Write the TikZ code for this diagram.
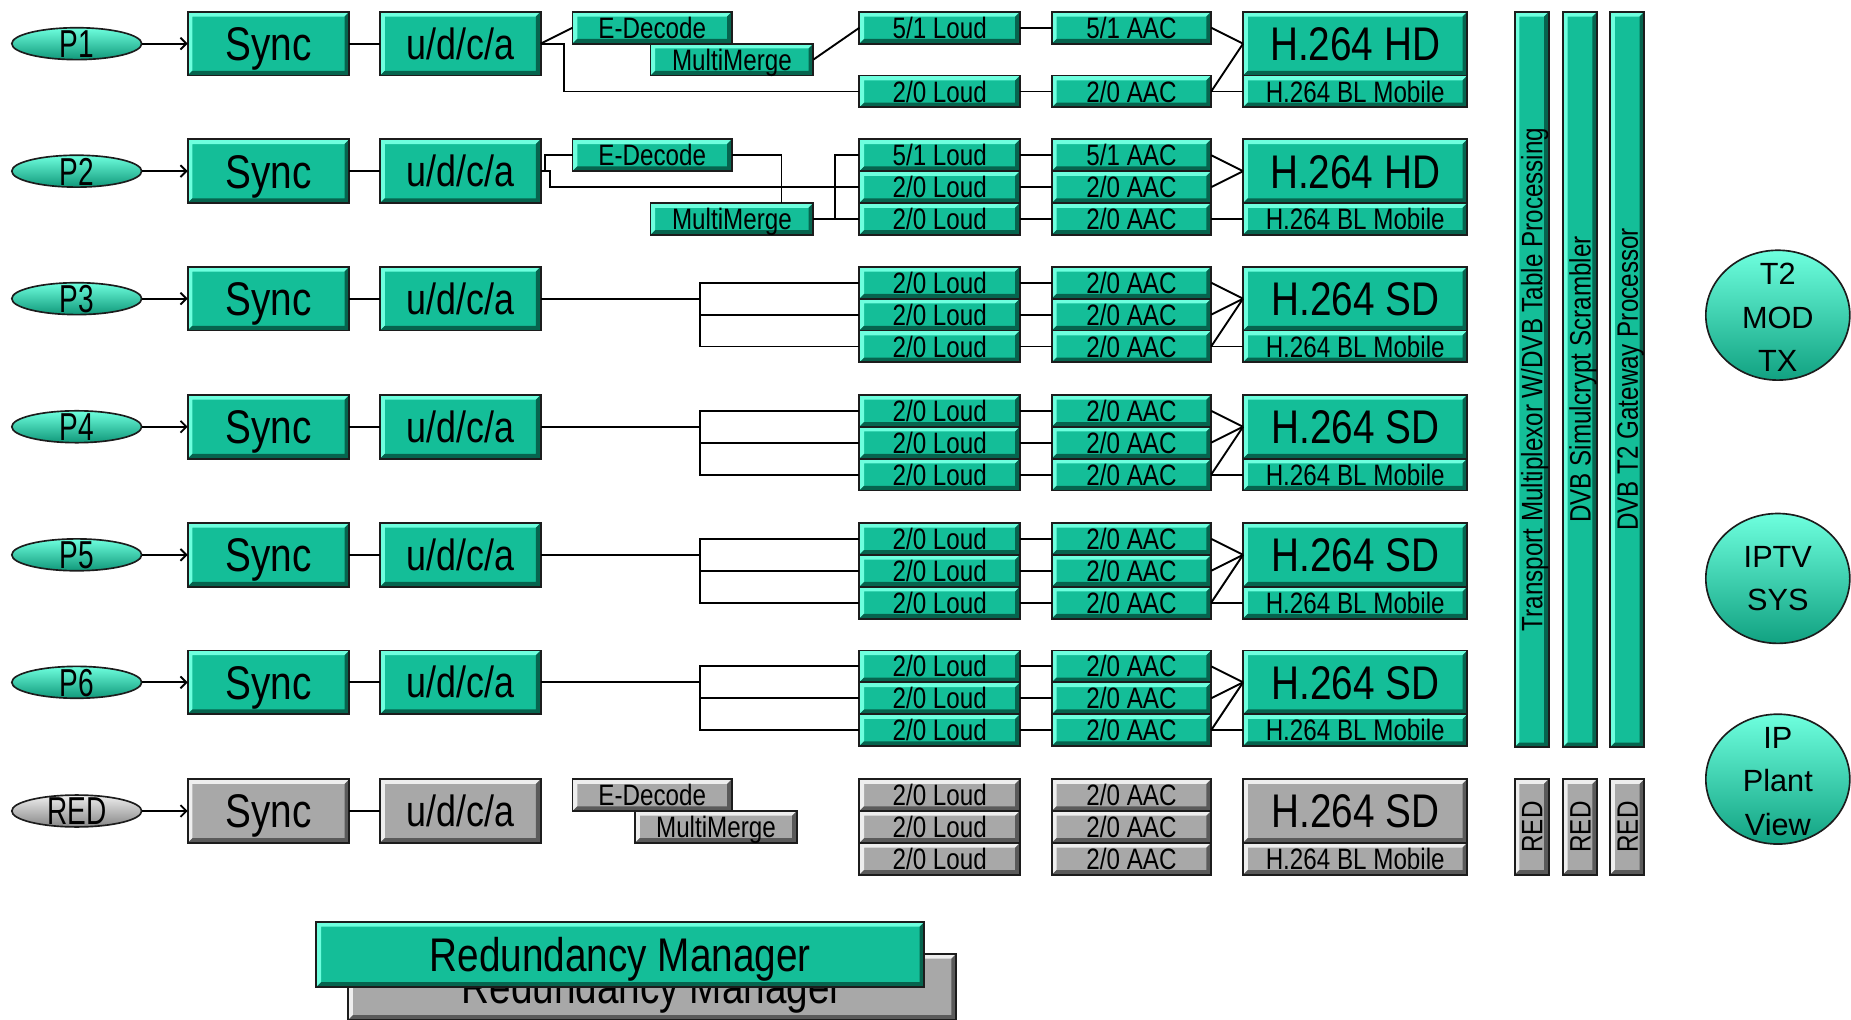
\documentclass[tikz,border=0pt]{standalone}
\usepackage{fontspec}
\usetikzlibrary{shapes.geometric,arrows.meta,calc}
\newfontfamily\nfont[FakeStretch=0.82]{Liberation Sans}
\newfontfamily\pfont[FakeStretch=0.72]{Liberation Sans}
\newfontfamily\wfont{Liberation Sans}
\definecolor{gmain}{RGB}{20,190,152}
\definecolor{glight}{RGB}{110,255,222}
\definecolor{gdark}{RGB}{6,100,78}
\definecolor{ymain}{RGB}{168,168,168}
\definecolor{ylight}{RGB}{238,238,238}
\definecolor{ydark}{RGB}{90,90,90}
\definecolor{bord}{RGB}{28,28,28}
\tikzset{
  bevelfx/.style 2 args={path picture={
    \fill[#1] let \p1=(path picture bounding box.south west), \p2=(path picture bounding box.north east) in
      (\x1,\y1) -- (\x1,\y2) -- (\x2,\y2) -- (\x2-4pt,\y2-4pt) -- (\x1+4pt,\y2-4pt) -- (\x1+4pt,\y1+4pt) -- cycle;
    \fill[#2] let \p1=(path picture bounding box.south west), \p2=(path picture bounding box.north east) in
      (\x1,\y1) -- (\x2,\y1) -- (\x2,\y2) -- (\x2-4pt,\y2-4pt) -- (\x2-4pt,\y1+4pt) -- (\x1+4pt,\y1+4pt) -- cycle;
  }},
  gb/.style={draw=bord, line width=1.6pt, fill=gmain, bevelfx={glight}{gdark}, inner sep=0pt, outer sep=0pt, text=black},
  yb/.style={draw=bord, line width=1.6pt, fill=ymain, bevelfx={ylight}{ydark}, inner sep=0pt, outer sep=0pt, text=black},
  smfont/.style={font=\nfont\fontsize{25}{28}\selectfont, text height=17.9pt, text depth=0pt},
  bgfont/.style={font=\nfont\fontsize{40}{44}\selectfont, text height=28.6pt, text depth=0pt},
  smbox/.style={smfont, minimum width=136pt, minimum height=27pt},
  aacbox/.style={smfont, minimum width=135pt, minimum height=27pt},
  edbox/.style={smfont, minimum width=135pt, minimum height=27pt},
  mmbox/.style={smfont, minimum width=138pt, minimum height=27pt},
  syncbox/.style={bgfont, minimum width=137pt, minimum height=54pt},
  udbox/.style={font=\nfont\fontsize{37}{40}\selectfont, text height=26.5pt, text depth=0pt, minimum width=136pt, minimum height=54pt},
  hbox/.style={bgfont, minimum width=190pt, minimum height=54pt},
  blbox/.style={smfont, minimum width=190pt, minimum height=27pt},
  barbox/.style={minimum width=29pt, minimum height=623pt},
  redbar/.style={minimum width=29pt, minimum height=81pt},
  bartext/.style={rotate=90, inner sep=0pt, smfont},
  pell/.style={ellipse, draw=bord, line width=1.4pt, minimum width=110pt, minimum height=27pt, inner sep=0pt, top color=glight, bottom color=gmain!80!black},
  yell/.style={ellipse, draw=bord, line width=1.4pt, minimum width=110pt, minimum height=27pt, inner sep=0pt, top color=ylight, bottom color=ymain!80!black},
  bigell/.style={ellipse, draw=bord, line width=1.4pt, minimum width=122pt, minimum height=110pt, inner sep=0pt, top color=glight, bottom color=gmain!85!black},
  ptext/.style={inner sep=0pt, font=\pfont\fontsize{33}{35}\selectfont, text height=23.6pt, text depth=0pt},
  etext/.style={inner sep=0pt, align=center, font=\wfont\fontsize{26}{37}\selectfont},
  conn/.style={draw=black, line width=1.6pt},
  arr/.style={conn, -{Straight Barb[length=5pt,width=10pt]}},
}
\begin{document}
\begin{tikzpicture}[x=1pt,y=-1pt]
\path[use as bounding box, fill=white] (0,0) rectangle (1568,864);

% ---------- Row 1 ----------
\node[pell] (p1) at (65,37) {};
\node[ptext] (p1t) at (p1) {P1};
\node[gb,syncbox] (sync1) at (227.5,37) {Sync};
\node[gb,udbox] (ud1) at (390,37) {u/d/c/a};
\node[gb,edbox] (ed1) at (552.5,23.5) {E-Decode};
\node[gb,mmbox] (mm1) at (620,50.5) {MultiMerge};
\node[gb,smbox] (la1) at (796,23.5) {5/1 Loud};
\node[gb,smbox] (lc1) at (796,77.5) {2/0 Loud};
\node[gb,aacbox] (aa1) at (958.5,23.5) {5/1 AAC};
\node[gb,aacbox] (ac1) at (958.5,77.5) {2/0 AAC};
\node[gb,hbox] (h1) at (1148,37) {H.264 HD};
\node[gb,blbox] (b1) at (1148,77.5) {H.264 BL Mobile};
\draw[arr] (p1.east) -- (sync1.west);
\draw[conn] (sync1) -- (ud1);
\draw[conn] (ud1.east) -- (ed1.west);
\draw[conn] (ud1.east) -- ++(20,0) |- (lc1.west);
\draw[conn] (mm1.east) -- (la1.west);
\draw[conn] (la1) -- (aa1);
\draw[conn] (lc1) -- (ac1);
\draw[conn] (aa1.east) -- (h1.west);
\draw[conn] (ac1.east) -- (h1.west);
\draw[conn] (ac1.east) -- (b1.west);

% ---------- Row 2 ----------
\node[pell] (p2) at (65,145) {};
\node[ptext] (p2t) at (p2) {P2};
\node[gb,syncbox] (sync2) at (227.5,145) {Sync};
\node[gb,udbox] (ud2) at (390,145) {u/d/c/a};
\node[gb,edbox] (ed2) at (552.5,131.5) {E-Decode};
\node[gb,mmbox] (mm2) at (620,185.5) {MultiMerge};
\node[gb,smbox] (la2) at (796,131.5) {5/1 Loud};
\node[gb,smbox] (lb2) at (796,158.5) {2/0 Loud};
\node[gb,smbox] (lc2) at (796,185.5) {2/0 Loud};
\node[gb,aacbox] (aa2) at (958.5,131.5) {5/1 AAC};
\node[gb,aacbox] (ab2) at (958.5,158.5) {2/0 AAC};
\node[gb,aacbox] (ac2) at (958.5,185.5) {2/0 AAC};
\node[gb,hbox] (h2) at (1148,145) {H.264 HD};
\node[gb,blbox] (b2) at (1148,185.5) {H.264 BL Mobile};
\draw[arr] (p2.east) -- (sync2.west);
\draw[conn] (sync2) -- (ud2);
\draw[conn] (ud2.east) -- ++(4,0) |- (ed2.west);
\draw[conn] (ud2.east) -- ++(8,0) |- (lb2.west);
\draw[conn] (ed2.east) -| ([xshift=42pt]mm2.north);
\draw[conn] (mm2.east) -- ++(18,0) |- (la2.west);
\draw[conn] (mm2.east) -- (lc2.west);
\draw[conn] (la2) -- (aa2);
\draw[conn] (lb2) -- (ab2);
\draw[conn] (lc2) -- (ac2);
\draw[conn] (aa2.east) -- (h2.west);
\draw[conn] (ab2.east) -- (h2.west);
\draw[conn] (ac2.east) -- (b2.west);

% ---------- Rows 3-6 ----------
\foreach \r/\y in {3/253,4/361.5,5/470,6/578}{
  \node[pell] (p\r) at (65,\y) {};
  \node[ptext] (p\r t) at (p\r) {P\r};
  \node[gb,syncbox] (sync\r) at (227.5,\y) {Sync};
  \node[gb,udbox] (ud\r) at (390,\y) {u/d/c/a};
  \node[gb,smbox] (la\r) at (796,\y-13.5) {2/0 Loud};
  \node[gb,smbox] (lb\r) at (796,\y+13.5) {2/0 Loud};
  \node[gb,smbox] (lc\r) at (796,\y+40.5) {2/0 Loud};
  \node[gb,aacbox] (aa\r) at (958.5,\y-13.5) {2/0 AAC};
  \node[gb,aacbox] (ab\r) at (958.5,\y+13.5) {2/0 AAC};
  \node[gb,aacbox] (ac\r) at (958.5,\y+40.5) {2/0 AAC};
  \node[gb,hbox] (h\r) at (1148,\y) {H.264 SD};
  \node[gb,blbox] (b\r) at (1148,\y+40.5) {H.264 BL Mobile};
  \coordinate (j\r) at (593,\y);
  \draw[arr] (p\r.east) -- (sync\r.west);
  \draw[conn] (sync\r) -- (ud\r);
  \draw[conn] (ud\r.east) -- (j\r);
  \draw[conn] (j\r) |- (la\r.west);
  \draw[conn] (j\r) |- (lb\r.west);
  \draw[conn] (j\r) |- (lc\r.west);
  \draw[conn] (la\r) -- (aa\r);
  \draw[conn] (lb\r) -- (ab\r);
  \draw[conn] (lc\r) -- (ac\r);
  \draw[conn] (aa\r.east) -- (h\r.west);
  \draw[conn] (ab\r.east) -- (h\r.west);
  \draw[conn] (ac\r.east) -- (h\r.west);
  \draw[conn] (ac\r.east) -- (b\r.west);
}

% ---------- RED row ----------
\node[yell] (pr) at (65,687) {};
\node[ptext] (prt) at (pr) {RED};
\node[yb,syncbox] (syncr) at (227.5,687) {Sync};
\node[yb,udbox] (udr) at (390,687) {u/d/c/a};
\node[yb,edbox] (edr) at (552.5,673.5) {E-Decode};
\node[yb,smfont,minimum width=137pt,minimum height=27pt] (mmr) at (606.5,700.5) {MultiMerge};
\node[yb,smbox] (lar) at (796,673.5) {2/0 Loud};
\node[yb,smbox] (lbr) at (796,700.5) {2/0 Loud};
\node[yb,smbox] (lcr) at (796,727.5) {2/0 Loud};
\node[yb,aacbox] (aar) at (958.5,673.5) {2/0 AAC};
\node[yb,aacbox] (abr) at (958.5,700.5) {2/0 AAC};
\node[yb,aacbox] (acr) at (958.5,727.5) {2/0 AAC};
\node[yb,hbox] (hr) at (1148,687) {H.264 SD};
\node[yb,blbox] (br) at (1148,727.5) {H.264 BL Mobile};
\draw[arr] (pr.east) -- (syncr.west);
\draw[conn] (syncr) -- (udr);

% ---------- vertical bars ----------
\node[gb,barbox] (bar1) at (1297.5,321.5) {};
\node[gb,barbox] (bar2) at (1338.5,321.5) {};
\node[gb,barbox] (bar3) at (1378.5,321.5) {};
\node[bartext] (bar1t) at (bar1) {Transport Multiplexor W/DVB Table Processing};
\node[bartext] (bar2t) at (bar2) {DVB Simulcrypt Scrambler};
\node[bartext] (bar3t) at (bar3) {DVB T2 Gateway Processor};
\node[yb,redbar] (rb1) at (1297.5,700.5) {};
\node[yb,redbar] (rb2) at (1338.5,700.5) {};
\node[yb,redbar] (rb3) at (1378.5,700.5) {};
\node[bartext] (rb1t) at (rb1) {RED};
\node[bartext] (rb2t) at (rb2) {RED};
\node[bartext] (rb3t) at (rb3) {RED};

% ---------- right ellipses ----------
\node[bigell] (t2) at (1506,267) {};
\node[etext] (t2t) at (1506,269) {T2\\MOD\\TX};
\node[bigell] (iptv) at (1506,490) {};
\node[etext] (iptvt) at (1506,490) {IPTV\\SYS};
\node[bigell] (ipv) at (1506,660) {};
\node[etext] (ipvt) at (1506,662) {IP\\Plant\\View};

% ---------- Redundancy manager ----------
\node[yb,bgfont,minimum width=515pt,minimum height=56pt] (rmy) at (552.5,836) {Redundancy Manager};
\node[gb,bgfont,minimum width=515pt,minimum height=55pt] (rmg) at (525.5,808.5) {Redundancy Manager};
\end{tikzpicture}
\end{document}
